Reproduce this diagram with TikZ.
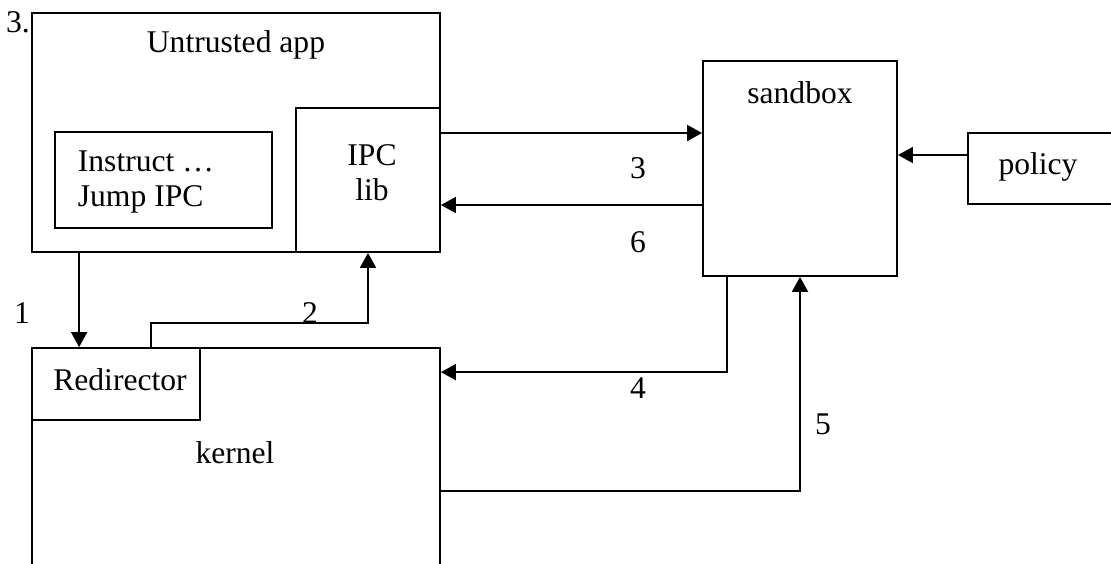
\documentclass[tikz,border=0pt]{standalone}
\usepackage{fontspec}
\setmainfont{Liberation Serif}
\usetikzlibrary{arrows.meta,fit}
\begin{document}
\begin{tikzpicture}[x=0.5pt, y=-0.5pt, line width=0.9pt,
        box/.style={draw, inner sep=0pt},
        txt/.style={font=\fontsize{15.8}{17.5}\selectfont, inner sep=0pt},
        >={Triangle[length=7.5pt, width=8pt]}]
    \clip (0,0) rectangle (1111,563);

    \node [box, fit={(32,13) (440,252)}] (app) {};
    \node [box, fit={(296,108) (440,252)}] (ipc) {};
    \node [box, fit={(55,132) (272,228)}] (instr) {};
    \node [box, fit={(32,348) (440,600)}] (kernel) {};
    \node [box, fit={(32,348) (200,420)}] (redir) {};
    \node [box, fit={(703,61) (897,276)}] (sandbox) {};
    \node [box, fit={(968,133) (1140,204)}] (policy) {};

    \node [txt] at (18,22) (three) {3.};
    \node [txt] at (236,45) (apptxt) {Untrusted app};
    \node [txt, align=left, anchor=west] at (77,182) (instrtxt) {Instruct …\\Jump IPC};
    \node [txt, align=center] at (372,173) (ipctxt) {IPC\\lib};
    \node [txt] at (120,380) (redirtxt) {Redirector};
    \node [txt] at (235,453) (kerneltxt) {kernel};
    \node [txt] at (800,93) (sandboxtxt) {sandbox};
    \node [txt] at (1038,167) (policytxt) {policy};

    \node [txt] at (22,313) (n1) {1};
    \node [txt] at (310,313) (n2) {2};
    \node [txt] at (638,168) (n3) {3};
    \node [txt] at (638,388) (n4) {4};
    \node [txt] at (823,424) (n5) {5};
    \node [txt] at (638,242) (n6) {6};

    \draw [->] ([xshift=24pt]app.south west) -- ([xshift=24pt]redir.north west);
    \draw [->] ([xshift=60pt]redir.north west) -- ++(0,-24) -| (ipc.south);
    \draw [->] ([yshift=23.5pt]ipc.east) coordinate (c3) -- (c3 -| sandbox.west);
    \draw [<-] ([yshift=-12.5pt]ipc.east) coordinate (c6) -- (c6 -| sandbox.west);
    \draw [->] ([yshift=6.75pt]policy.west) coordinate (cp) -- (cp -| sandbox.east);
    \draw [->] ([xshift=12.5pt]sandbox.south west) |- ([yshift=-12.5pt]kernel.north east);
    \draw [->] ([yshift=-72pt]kernel.north east) -| (sandbox.south);
\end{tikzpicture}
\end{document}
